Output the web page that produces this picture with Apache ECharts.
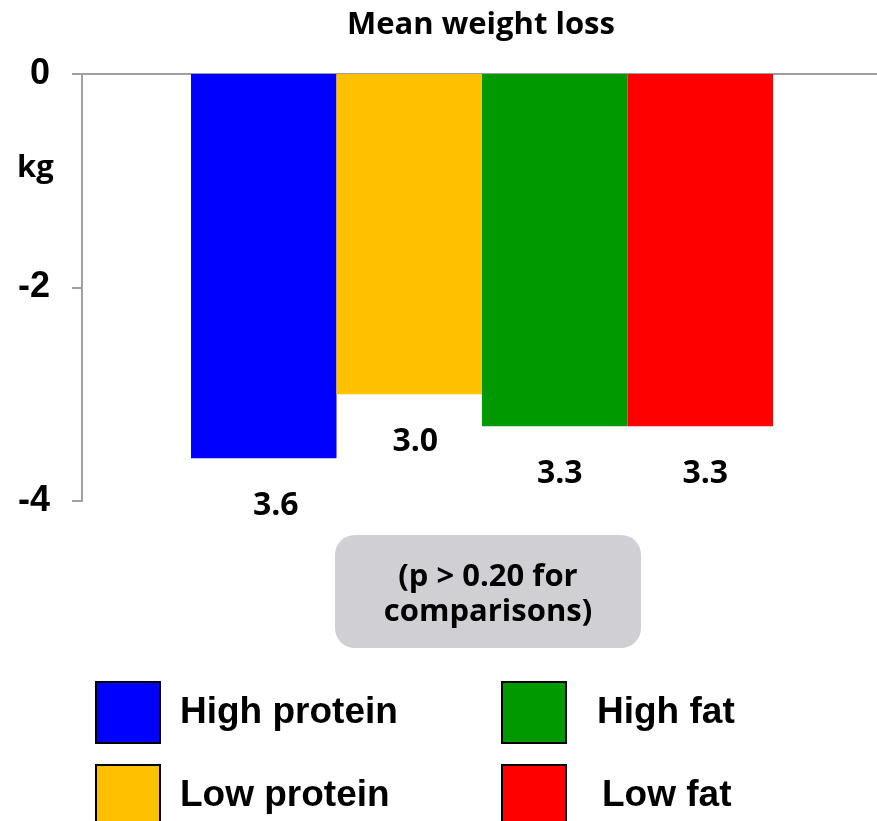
<!DOCTYPE html>
<html>
<head>
<meta charset="utf-8">
<script src="https://cdn.jsdelivr.net/npm/echarts@6/dist/echarts.min.js"></script>
<style>
  html, body { margin: 0; padding: 0; background: #fff; overflow: hidden; }
  #chart { width: 882px; height: 821px; }
</style>
</head>
<body>
<div id="chart"></div>
<script>
// Mean weight loss (kg) by diet group
const dietNames = ['High protein', 'Low protein', 'High fat', 'Low fat'];
const weightChange = [-3.6, -3.0, -3.3, -3.3];
const barColors = ['#0000FF', '#FFC000', '#009900', '#FF0000'];
const yTicks = { min: -4, max: 0, interval: 2 };
const titleText = 'Mean weight loss';
const unitText = 'kg';
const noteText = '(p > 0.20 for\ncomparisons)';

const humanist = '"Open Sans", Lato, sans-serif';
const arial = '"Liberation Sans", Arial, sans-serif';

const labelOffsets = [[12, 0], [6, 0], [5, 0], [5, 0]];

const series = dietNames.map((name, i) => ({
  name: name,
  type: 'bar',
  data: [weightChange[i]],
  barWidth: 145.5,
  barGap: '0%',
  itemStyle: { color: barColors[i] },
  label: {
    show: true,
    position: 'bottom',
    distance: 32,
    offset: labelOffsets[i],
    formatter: p => Math.abs(p.value).toFixed(1),
    fontFamily: humanist,
    fontWeight: 'bold',
    fontSize: 32,
    color: '#000'
  }
}));

// legend blocks: two columns, two rows
const legendPos = [
  { left: 95, top: 681 },
  { left: 95, top: 764 },
  { left: 501, top: 681 },
  { left: 501, top: 764 }
];
const legendTextPad = [15, 15, 26, 31];
const legends = dietNames.map((name, i) => ({
  data: [name],
  left: legendPos[i].left,
  top: legendPos[i].top,
  padding: 0,
  icon: 'rect',
  itemWidth: 64,
  itemHeight: 61,
  selectedMode: false,
  itemStyle: { borderColor: '#000', borderWidth: 2 },
  textStyle: {
    fontFamily: arial,
    fontWeight: 'bold',
    fontSize: 37,
    color: '#000',
    padding: [0, 0, 0, legendTextPad[i]]
  }
}));

const chart = echarts.init(document.getElementById('chart'), null, { renderer: 'canvas' });
chart.setOption({
  animation: false,
  backgroundColor: '#fff',
  title: {
    text: titleText,
    left: 476,
    textAlign: 'center',
    top: 5,
    textStyle: { fontFamily: humanist, fontWeight: 'bold', fontSize: 31, color: '#000' }
  },
  legend: legends,
  grid: { left: 82, right: 0, top: 74, bottom: 320, containLabel: false },
  xAxis: {
    type: 'category',
    data: [''],
    axisLine: { show: true, onZero: true, lineStyle: { color: '#a0a0a0', width: 2 } },
    axisTick: { show: false },
    axisLabel: { show: false }
  },
  yAxis: {
    type: 'value',
    min: yTicks.min,
    max: yTicks.max,
    interval: yTicks.interval,
    splitLine: { show: false },
    axisLine: { show: true, lineStyle: { color: '#a0a0a0', width: 2 } },
    axisTick: { show: true, inside: false, length: 10, lineStyle: { color: '#a0a0a0', width: 2 } },
    axisLabel: {
      margin: 32,
      fontFamily: arial,
      fontWeight: 'bold',
      fontSize: 36,
      color: '#000'
    }
  },
  graphic: [
    {
      type: 'text',
      left: 17,
      top: 153,
      style: { text: unitText, fontFamily: humanist, fontWeight: 'bold', fontSize: 31, fill: '#000' }
    },
    {
      type: 'rect',
      shape: { x: 335, y: 535, width: 306, height: 113, r: 20 },
      style: { fill: '#cfcfd4' }
    },
    {
      type: 'text',
      x: 488,
      y: 595,
      style: {
        text: noteText,
        align: 'center',
        verticalAlign: 'middle',
        fontFamily: humanist,
        fontWeight: 'bold',
        fontSize: 31,
        lineHeight: 35,
        fill: '#000'
      }
    }
  ],
  series: series
});
</script>
</body>
</html>
